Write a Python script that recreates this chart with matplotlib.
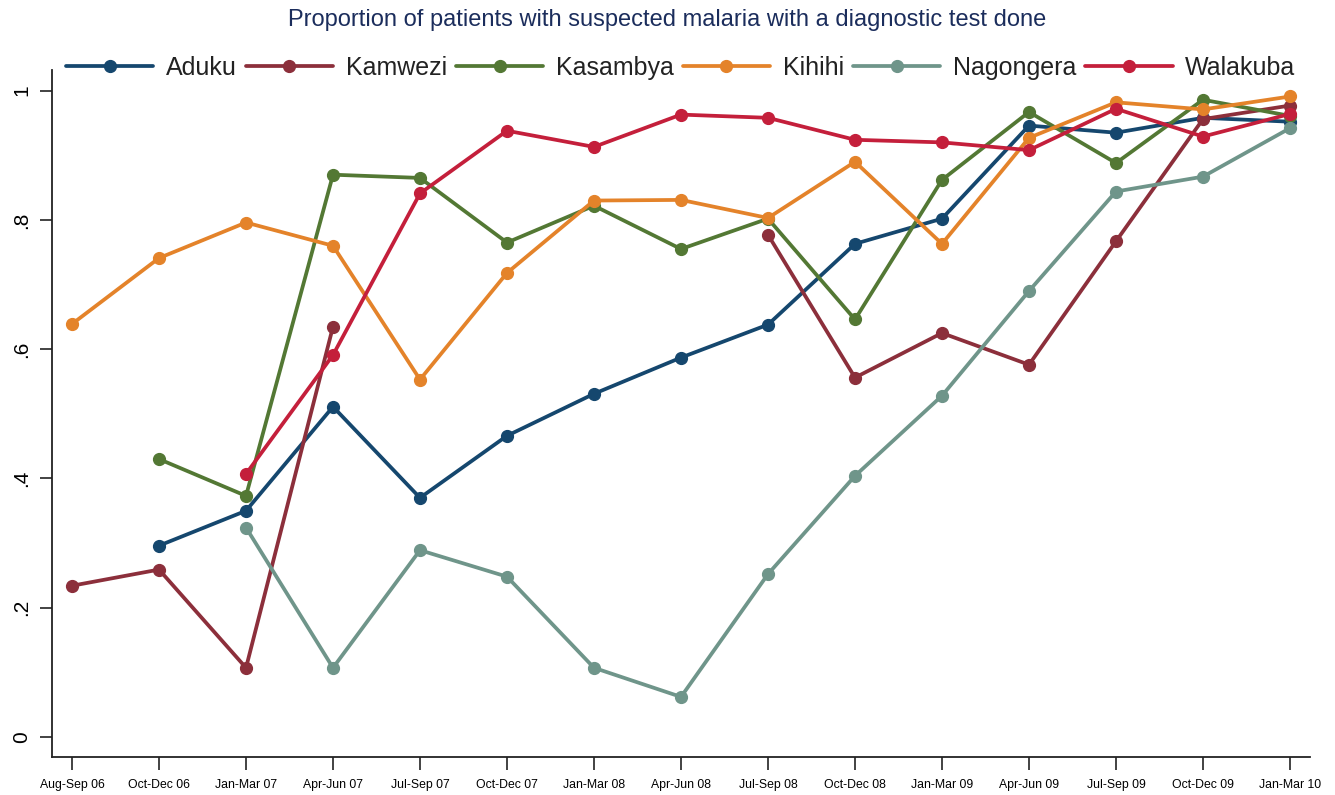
import numpy as np
import matplotlib
matplotlib.use("Agg")
import matplotlib.pyplot as plt

plt.rcParams['font.family'] = ['Liberation Sans', 'DejaVu Sans']

periods = ["Aug-Sep 06", "Oct-Dec 06", "Jan-Mar 07", "Apr-Jun 07", "Jul-Sep 07",
           "Oct-Dec 07", "Jan-Mar 08", "Apr-Jun 08", "Jul-Sep 08", "Oct-Dec 08",
           "Jan-Mar 09", "Apr-Jun 09", "Jul-Sep 09", "Oct-Dec 09", "Jan-Mar 10"]
nan = np.nan
aduku = [nan, 0.296, 0.350, 0.511, 0.370, 0.466, 0.531, 0.587, 0.638, 0.763,
         0.802, 0.946, 0.935, 0.958, 0.952]
kamwezi = [0.234, 0.259, 0.107, 0.635, nan, nan, nan, nan, 0.777, 0.556,
           0.625, 0.576, 0.767, 0.956, 0.977]
kasambya = [nan, 0.430, 0.373, 0.870, 0.865, 0.765, 0.822, 0.755, 0.802, 0.646,
            0.862, 0.967, 0.888, 0.986, 0.961]
kihihi = [0.639, 0.741, 0.796, 0.760, 0.553, 0.718, 0.830, 0.831, 0.803, 0.890,
          0.763, 0.927, 0.982, 0.971, 0.991]
nagongera = [nan, nan, 0.324, 0.107, 0.289, 0.248, 0.107, 0.062, 0.252, 0.404,
             0.528, 0.690, 0.844, 0.867, 0.942]
walakuba = [nan, nan, 0.407, 0.591, 0.841, 0.938, 0.913, 0.963, 0.958, 0.924,
            0.920, 0.908, 0.972, 0.929, 0.964]

series = [("Aduku", aduku, "#15476e"),
          ("Kamwezi", kamwezi, "#8c2f3b"),
          ("Kasambya", kasambya, "#537834"),
          ("Kihihi", kihihi, "#e4832a"),
          ("Nagongera", nagongera, "#6f958a"),
          ("Walakuba", walakuba, "#c41f3b")]

fig = plt.figure(figsize=(13.35, 7.95), dpi=100)
ax = fig.add_axes([52/1335, 1-757/795, (1310-52)/1335, (757-70)/795])

x = np.arange(len(periods))
for name, vals, col in series:
    ax.plot(x, vals, color=col, lw=2.7, marker='o', ms=8.5, label=name,
            solid_capstyle='round')

ax.set_xlim(-0.23, len(periods) - 1 + 0.23)
ax.set_ylim(-0.031, 1.032)
ax.set_xticks(x)
ax.set_xticklabels(periods, fontsize=8.8)
yt = [0, 0.2, 0.4, 0.6, 0.8, 1.0]
ax.set_yticks(yt)
ax.set_yticklabels(["0", ".2", ".4", ".6", ".8", "1"], fontsize=15, rotation=90,
                   va='center')
for s in ["top", "right"]:
    ax.spines[s].set_visible(False)
for s in ["left", "bottom"]:
    ax.spines[s].set_linewidth(1.3)
    ax.spines[s].set_color("#222222")
ax.tick_params(axis='both', length=9, width=1.2, color="#222222")
ax.tick_params(axis='x', pad=7)
ax.tick_params(axis='y', pad=6)

leg = ax.legend(ncol=6, loc='upper left', bbox_to_anchor=(0.003, 1.035),
                frameon=False, fontsize=18, handlelength=3.5,
                handletextpad=0.5, columnspacing=0.36, borderaxespad=0)
for t in leg.get_texts():
    t.set_color("#222222")

fig.text(0.5, 1-20/795, "Proportion of patients with suspected malaria with a diagnostic test done",
         ha='center', va='center', fontsize=17, color="#1b2d5c")

fig.savefig("out.png", dpi=100, facecolor='white')
